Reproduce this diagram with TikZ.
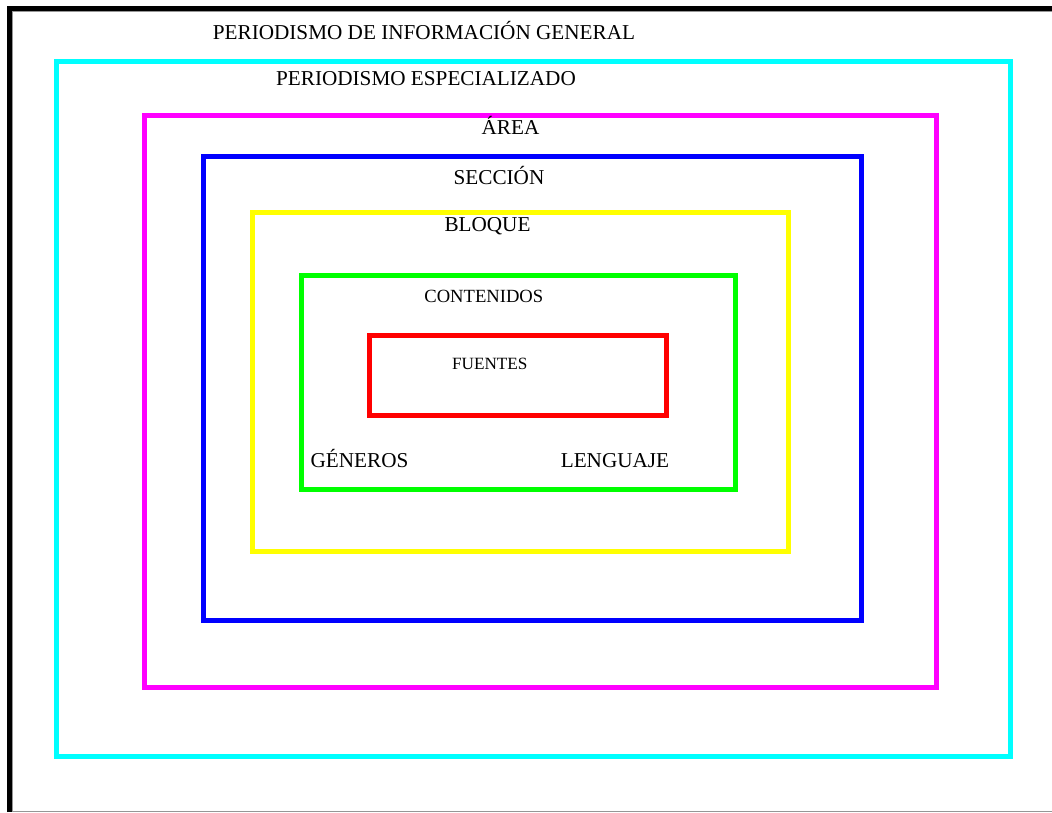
\documentclass[tikz,border=0pt]{standalone}
\usepackage{fontspec}
\setmainfont{Liberation Serif}
\definecolor{ccyan}{RGB}{0,255,255}
\definecolor{cmagenta}{RGB}{255,0,255}
\definecolor{cblue}{RGB}{0,0,255}
\definecolor{cyellow}{RGB}{255,255,0}
\definecolor{cgreen}{RGB}{0,255,0}
\definecolor{cred}{RGB}{255,0,0}
\definecolor{cgray}{RGB}{150,150,150}
\begin{document}
\begin{tikzpicture}[x=1pt,y=-1pt,
  frame/.style={line width=4.8pt,black},
  box/.style={line width=5pt,draw=#1},
  lbl/.style={anchor=base,inner sep=0pt,font=\fontsize{21.2}{22}\selectfont},
  lblsmall/.style={anchor=base,inner sep=0pt,font=\fontsize{18.6}{19}\selectfont},
  lbltiny/.style={anchor=base,inner sep=0pt,font=\fontsize{17.2}{18}\selectfont}]
\useasboundingbox[fill=white] (0,0) rectangle (1052,812);
% outer frame
\draw[cgray,line width=1pt] (12.6,11) -- (12.6,811.5) -- (1052,811.5);
\draw[cgray,line width=1pt] (12.6,11.2) -- (1052,11.2);
\draw[frame] (9.7,812) -- (9.7,8.4) -- (1052,8.4);
% nested boxes
\draw[box=ccyan]    (56.7,61)   rectangle (1010,756);
\draw[box=cmagenta] (144,115)   rectangle (936,687);
\draw[box=cblue]    (203,156)   rectangle (861,620);
\draw[box=cyellow]  (252,212.7) rectangle (788,551);
\draw[box=cgreen]   (301.7,275.5) rectangle (735,489);
\draw[box=cred]     (369,335)   rectangle (666.5,415);
% labels
\node[lbl] (general) at (424,39) {PERIODISMO DE INFORMACIÓN GENERAL};
\node[lbl] (especial) at (426,85) {PERIODISMO ESPECIALIZADO};
\node[lbl] (area) at (510.5,134) {ÁREA};
\node[lbl] (seccion) at (499,184) {SECCIÓN};
\node[lbl] (bloque) at (487.5,231.5) {BLOQUE};
\node[lblsmall] (contenidos) at (483.8,302.5) {CONTENIDOS};
\node[lbltiny] (fuentes) at (489.8,369.5) {FUENTES};
\node[lbl] (generos) at (359.5,467.5) {GÉNEROS};
\node[lbl] (lenguaje) at (615,467.5) {LENGUAJE};
\end{tikzpicture}
\end{document}
